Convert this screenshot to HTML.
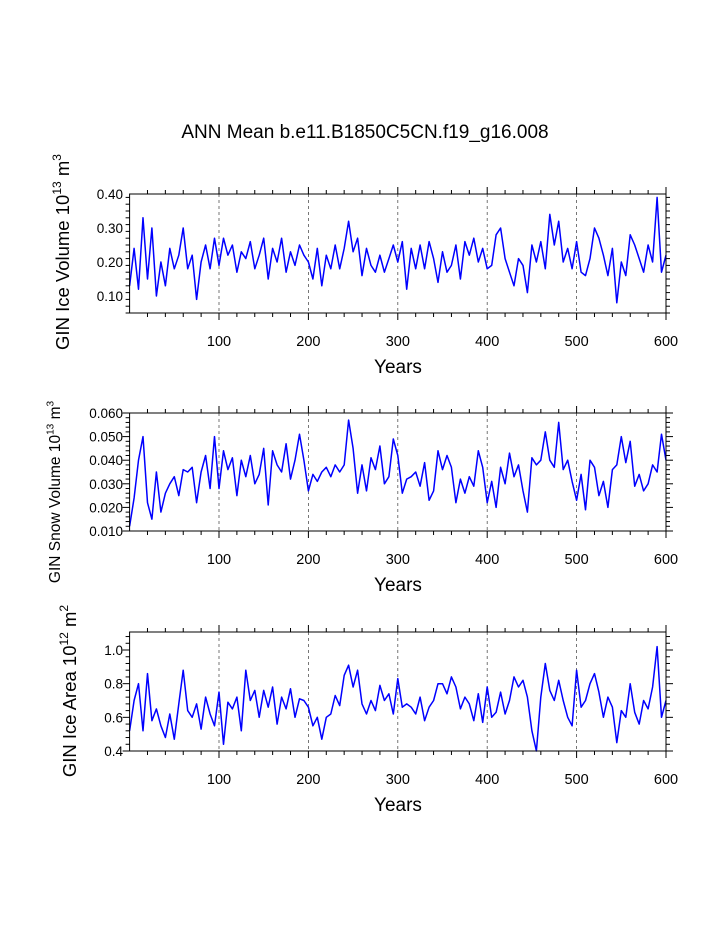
<!DOCTYPE html>
<html><head><meta charset="utf-8"><style>
body{margin:0;background:#fff}
svg text{font-family:"Liberation Sans",Arial,sans-serif;fill:#000}
</style></head><body>
<svg id="c" width="723" height="935" xmlns="http://www.w3.org/2000/svg">
<text x="365" y="138" font-size="19" text-anchor="middle">ANN Mean b.e11.B1850C5CN.f19_g16.008</text>
</svg>
<script>
const years = [];
for (let i = 0; i <= 120; i++) years.push(i * 5);
const iceVolume = [0.13,0.24,0.12,0.33,0.15,0.30,0.10,0.20,0.13,0.24,0.18,0.22,0.30,0.18,0.22,0.09,0.20,0.25,0.18,0.27,0.19,0.27,0.22,0.25,0.17,0.23,0.21,0.26,0.18,0.22,0.27,0.15,0.24,0.20,0.27,0.17,0.23,0.19,0.25,0.22,0.20,0.15,0.24,0.13,0.22,0.18,0.25,0.18,0.24,0.32,0.23,0.27,0.16,0.24,0.19,0.17,0.22,0.17,0.21,0.25,0.20,0.26,0.12,0.24,0.18,0.25,0.18,0.26,0.21,0.14,0.23,0.17,0.19,0.25,0.15,0.26,0.22,0.27,0.20,0.24,0.18,0.19,0.28,0.30,0.21,0.17,0.13,0.21,0.19,0.11,0.25,0.20,0.26,0.18,0.34,0.25,0.32,0.20,0.24,0.18,0.26,0.17,0.16,0.21,0.30,0.27,0.22,0.16,0.24,0.08,0.20,0.16,0.28,0.25,0.21,0.17,0.25,0.20,0.39,0.17,0.22];
const snowVolume = [0.012,0.024,0.040,0.050,0.022,0.015,0.035,0.018,0.026,0.030,0.033,0.025,0.036,0.035,0.037,0.022,0.035,0.042,0.028,0.050,0.028,0.044,0.036,0.041,0.025,0.040,0.033,0.042,0.030,0.034,0.045,0.021,0.044,0.038,0.035,0.047,0.032,0.040,0.051,0.040,0.027,0.034,0.031,0.035,0.037,0.033,0.038,0.035,0.038,0.057,0.045,0.026,0.038,0.027,0.041,0.036,0.046,0.030,0.033,0.049,0.042,0.026,0.032,0.033,0.035,0.029,0.039,0.023,0.027,0.044,0.036,0.042,0.037,0.022,0.032,0.026,0.033,0.029,0.044,0.037,0.022,0.031,0.020,0.037,0.030,0.043,0.033,0.038,0.027,0.018,0.041,0.038,0.040,0.052,0.040,0.037,0.056,0.036,0.040,0.031,0.023,0.034,0.019,0.040,0.037,0.025,0.031,0.020,0.036,0.038,0.050,0.039,0.048,0.029,0.034,0.027,0.030,0.038,0.035,0.051,0.040];
const iceArea = [0.52,0.70,0.80,0.52,0.86,0.58,0.65,0.55,0.48,0.62,0.47,0.68,0.88,0.64,0.60,0.68,0.53,0.72,0.62,0.55,0.75,0.44,0.69,0.65,0.72,0.52,0.88,0.70,0.76,0.60,0.76,0.66,0.78,0.56,0.72,0.65,0.77,0.60,0.71,0.70,0.66,0.55,0.60,0.47,0.60,0.62,0.73,0.67,0.85,0.91,0.78,0.88,0.68,0.62,0.70,0.64,0.79,0.70,0.74,0.62,0.83,0.66,0.68,0.66,0.62,0.72,0.58,0.66,0.70,0.80,0.80,0.74,0.84,0.78,0.65,0.72,0.68,0.58,0.74,0.57,0.78,0.60,0.63,0.75,0.62,0.70,0.84,0.78,0.82,0.72,0.52,0.40,0.72,0.92,0.76,0.70,0.82,0.70,0.60,0.55,0.88,0.66,0.70,0.80,0.86,0.75,0.60,0.72,0.66,0.45,0.64,0.60,0.80,0.63,0.56,0.70,0.65,0.78,1.02,0.60,0.70];
const xTicks = [100,200,300,400,500,600];
const ticks1 = [0.10,0.20,0.30,0.40];
const ticks2 = [0.010,0.020,0.030,0.040,0.050,0.060];
const ticks3 = [0.4,0.6,0.8,1.0];

const NS = "http://www.w3.org/2000/svg";
const svg = document.getElementById('c');
function mk(tag, attrs, parent) {
  const e = document.createElementNS(NS, tag);
  for (const k in attrs) e.setAttribute(k, attrs[k]);
  (parent || svg).appendChild(e);
  return e;
}
const X0 = 129.6, X1 = 666;
const xs = yr => X0 + (yr / 600) * (X1 - X0);

function panel(name, top, bottom, ymin, ymax, ticks, minorStep, dec, data, titleMain, supText, supUnit, titleX, cy, tfs) {
  const g = mk('g', {});
  
  
  const ys = v => bottom - (v - ymin) / (ymax - ymin) * (bottom - top);
  for (const t of [100,200,300,400,500]) {
    const l = mk('line', {x1: xs(t), x2: xs(t), y1: top, y2: bottom, stroke: '#555', 'stroke-width': 0.8, 'stroke-dasharray': '3,3'}, g);
    
    
  }
  let d = '';
  data.forEach((v, i) => { d += (i ? 'L' : 'M') + xs(years[i]).toFixed(1) + ',' + ys(v).toFixed(1); });
  const p = mk('path', {d: d, fill: 'none', stroke: '#0000ff', 'stroke-width': 1.5, 'stroke-linejoin': 'round'}, g);
  
  
  const r = mk('rect', {x: X0, y: top, width: X1 - X0, height: bottom - top, fill: 'none', stroke: '#000', 'stroke-width': 1}, g);
  
  
  for (let yr = 20; yr <= 600; yr += 20) {
    const major = yr % 100 === 0;
    const L = major ? 7 : 4;
    mk('line', {x1: xs(yr), x2: xs(yr), y1: bottom, y2: bottom + L, stroke: '#000'}, g);
    mk('line', {x1: xs(yr), x2: xs(yr), y1: top, y2: top - L, stroke: '#000'}, g);
  }
  xTicks.forEach(t => {
    const tx = mk('text', {x: xs(t), y: bottom + 33, 'font-size': 14.5, 'text-anchor': 'middle'}, g);
    tx.textContent = t;
    
    
  });
  const xt = mk('text', {x: 398, y: bottom + 60, 'font-size': 19, 'text-anchor': 'middle'}, g);
  xt.textContent = 'Years';
  
  
  for (let v = ymin; v <= ymax + 1e-9; v += minorStep) {
    const isMajor = ticks.some(t => Math.abs(t - v) < minorStep / 10);
    const L = isMajor ? 7 : 4;
    const y = ys(v);
    mk('line', {x1: X0, x2: X0 - L, y1: y, y2: y, stroke: '#000'}, g);
    mk('line', {x1: X1, x2: X1 + L, y1: y, y2: y, stroke: '#000'}, g);
  }
  ticks.forEach(t => {
    const tx = mk('text', {x: 123, y: ys(t) + 5, 'font-size': 13.5, 'text-anchor': 'end'}, g);
    tx.textContent = t.toFixed(dec);
    
    
  });
  const yt = mk('text', {x: 0, y: 0, 'font-size': tfs, 'text-anchor': 'middle', transform: 'translate(' + titleX + ',' + cy + ') rotate(-90)'}, g);
  
  
  const a = mk('tspan', {}, yt); a.textContent = titleMain;
  const b = mk('tspan', {'font-size': tfs * 0.65, dy: -tfs * 0.43}, yt); b.textContent = supText;
  const c = mk('tspan', {dy: tfs * 0.43}, yt); c.textContent = ' m';
  const e = mk('tspan', {'font-size': tfs * 0.65, dy: -tfs * 0.43}, yt); e.textContent = supUnit;
}
panel('ice-volume', 194, 313, 0.05, 0.40, ticks1, 0.02, 2, iceVolume, 'GIN Ice Volume 10', '13', '3', 69, 252, 18.5);
panel('snow-volume', 413, 531, 0.010, 0.060, ticks2, 0.002, 3, snowVolume, 'GIN Snow Volume 10', '13', '3', 60, 492, 15.5);
panel('ice-area', 632, 751, 0.4, 1.107, ticks3, 0.04, 1, iceArea, 'GIN Ice Area 10', '12', '2', 76, 691, 18.5);
</script>
</body></html>
